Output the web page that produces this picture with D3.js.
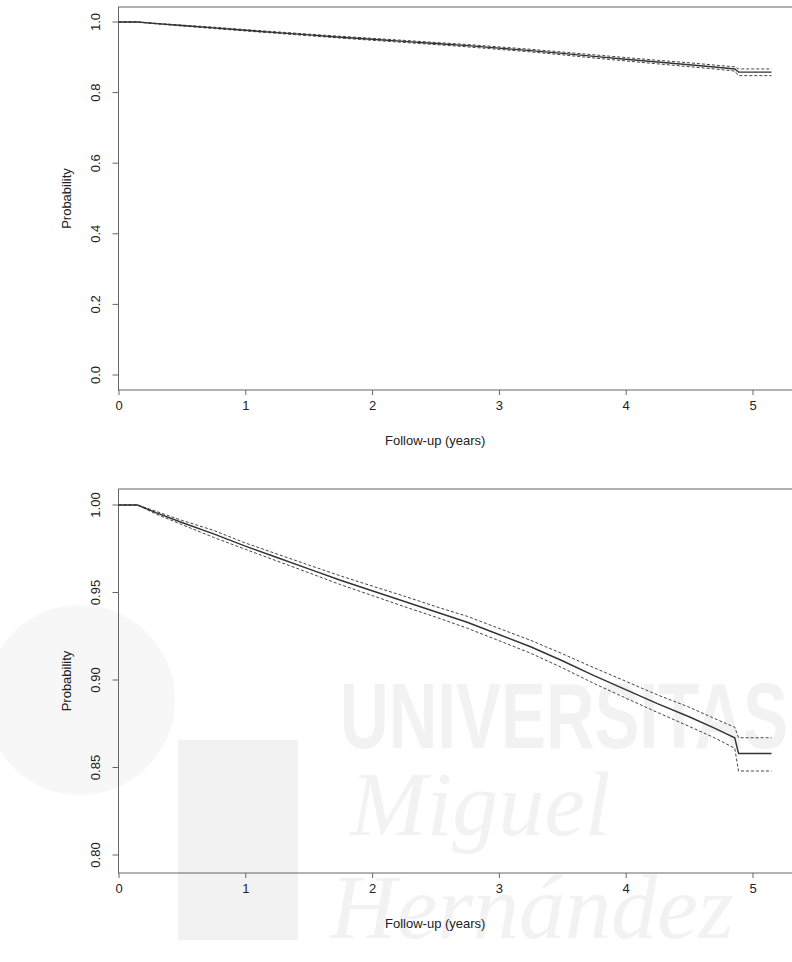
<!DOCTYPE html>
<html lang="en">
<head>
<meta charset="utf-8">
<title>Kaplan-Meier survival</title>
<script src="https://cdn.jsdelivr.net/npm/d3@7"></script>
<style>
body { margin: 0; background: #fff; }
svg { display: block; font-family: "Liberation Sans", Arial, sans-serif; }
</style>
</head>
<body>
<script>
// follow-up time (years) and survival estimate with 95% band
var times = [0, 0.15, 0.3, 0.5, 0.75, 1, 1.25, 1.5, 1.75, 2, 2.25, 2.5, 2.75, 3, 3.25, 3.5, 3.75, 4, 4.25, 4.5, 4.7, 4.86, 4.89, 5.15];
var surv  = [1, 1, 0.9955, 0.990, 0.9835, 0.9765, 0.970, 0.9635, 0.957, 0.951, 0.945, 0.939, 0.933, 0.926, 0.919, 0.911, 0.9025, 0.8945, 0.8865, 0.879, 0.8725, 0.867, 0.858, 0.858];
var upper = [1, 1, 0.9963, 0.9912, 0.9855, 0.9783, 0.972, 0.9657, 0.9595, 0.9537, 0.948, 0.942, 0.9364, 0.9295, 0.9227, 0.915, 0.907, 0.8993, 0.8915, 0.8845, 0.878, 0.873, 0.867, 0.867];
var lower = [1, 1, 0.9947, 0.9888, 0.9815, 0.9747, 0.968, 0.9613, 0.9545, 0.9483, 0.942, 0.936, 0.9296, 0.9225, 0.9153, 0.907, 0.898, 0.8897, 0.8815, 0.8735, 0.867, 0.861, 0.848, 0.848];

var xTicks = [0, 1, 2, 3, 4, 5];
var yTicksTop = [0, 0.2, 0.4, 0.6, 0.8, 1.0];
var yTicksBottom = [0.80, 0.85, 0.90, 0.95, 1.00];

var W = 792, H = 962;
var svg = d3.select("body").append("svg").attr("width", W).attr("height", H);

// faint watermark behind the lower panel
var wm = svg.append("g").attr("fill", "#f2f2f2");
wm.append("circle").attr("cx", 80).attr("cy", 700).attr("r", 95).attr("fill", "#f7f7f7");
wm.append("rect").attr("x", 178).attr("y", 740).attr("width", 120).attr("height", 200);
wm.append("text").attr("x", 340).attr("y", 748).attr("font-size", 92).attr("font-weight", "bold")
  .attr("textLength", 448).attr("lengthAdjust", "spacingAndGlyphs")
  .attr("font-family", "Liberation Sans, Arial").text("UNIVERSITAS");
wm.append("text").attr("x", 350).attr("y", 835).attr("font-size", 92).attr("font-style", "italic")
  .attr("font-family", "Liberation Serif, serif").text("Miguel");
wm.append("text").attr("x", 330).attr("y", 938).attr("font-size", 92).attr("font-style", "italic")
  .attr("font-family", "Liberation Serif, serif").text("Hernández");

var data = times.map(function(t, i) {
  return {t: t, s: surv[i], u: upper[i], l: lower[i]};
});

function panel(top, bottom, yDomain, yTicks, fmt, y1) {
  var x = d3.scaleLinear().domain([0, 5]).range([118.5, 752.5]);
  var y = d3.scaleLinear().domain(yDomain).range([y1, top.y0]);

  var g = svg.append("g");

  // box
  g.append("rect")
    .attr("x", 118.5).attr("y", top.box)
    .attr("width", 700).attr("height", bottom - top.box)
    .attr("fill", "none").attr("stroke", "#666").attr("stroke-width", 1);

  var xAxis = g.append("g")
    .attr("transform", "translate(0," + bottom + ")")
    .call(d3.axisBottom(x).tickValues(xTicks).tickSize(5).tickPadding(6).tickFormat(d3.format("d")));
  xAxis.select(".domain").remove();
  xAxis.selectAll("line").attr("stroke", "#666");
  xAxis.selectAll("text").attr("font-size", 13).attr("fill", "#222")
    .attr("font-family", "Liberation Sans, Arial");

  var yAxis = g.append("g")
    .attr("transform", "translate(118.5,0)")
    .call(d3.axisLeft(y).tickValues(yTicks).tickSize(6).tickFormat(d3.format(fmt)));
  yAxis.select(".domain").remove();
  yAxis.selectAll("line").attr("stroke", "#666");
  yAxis.selectAll("text")
    .attr("font-size", 13).attr("fill", "#222")
    .attr("font-family", "Liberation Sans, Arial")
    .attr("x", null).attr("dy", null)
    .attr("text-anchor", "middle")
    .attr("transform", function(d) { return "translate(-19," + y(d) + ") rotate(-90)"; })
    .attr("y", 0);
  yAxis.selectAll(".tick").attr("transform", null);
  yAxis.selectAll(".tick line").attr("transform", function(d) { return "translate(0," + y(d) + ")"; });

  g.append("text")
    .attr("x", (118.5 + 792) / 2 - 20).attr("y", bottom + 55)
    .attr("text-anchor", "middle").attr("font-size", 13).attr("fill", "#222")
    .text("Follow-up (years)");

  g.append("text")
    .attr("transform", "translate(71," + ((top.box + bottom) / 2) + ") rotate(-90)")
    .attr("text-anchor", "middle").attr("font-size", 13).attr("fill", "#222")
    .text("Probability");

  function line(key) {
    return d3.line().x(function(d) { return x(d.t); }).y(function(d) { return y(d[key]); });
  }
  g.append("path").datum(data).attr("d", line("u"))
    .attr("fill", "none").attr("stroke", "#444").attr("stroke-width", 1).attr("stroke-dasharray", "3,2");
  g.append("path").datum(data).attr("d", line("l"))
    .attr("fill", "none").attr("stroke", "#444").attr("stroke-width", 1).attr("stroke-dasharray", "3,2");
  g.append("path").datum(data).attr("d", line("s"))
    .attr("fill", "none").attr("stroke", "#333").attr("stroke-width", 1.4);
}

panel({box: 7, y0: 22}, 390, [0, 1], yTicksTop, ".1f", 375);
panel({box: 489, y0: 505}, 873, [0.80, 1.00], yTicksBottom, ".2f", 855);
</script>
</body>
</html>
